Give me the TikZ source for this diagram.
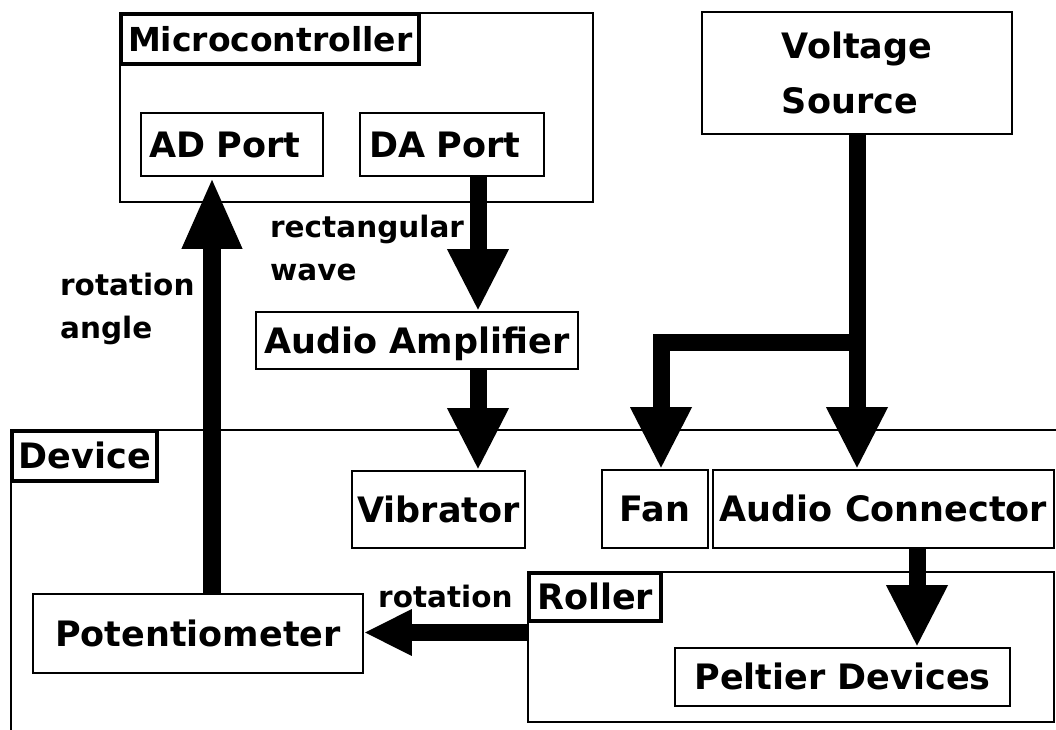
\documentclass[tikz,border=0pt]{standalone}
\usepackage{fontspec}
\setmainfont{DejaVu Sans}
\usetikzlibrary{arrows.meta,calc}
\newcommand\BoxFont{\fontsize{35}{55}\selectfont\bfseries}
\newcommand\LblFont{\fontsize{29.5}{43}\selectfont\bfseries}
\begin{document}
\begin{tikzpicture}[x=1pt,y=-1pt,
  box/.style={draw, line width=1.6pt, inner sep=0pt, font=\BoxFont, text height=25.5pt, text depth=0pt},
  frame/.style={draw, line width=1.6pt, inner sep=0pt},
  tag/.style={draw, line width=4pt, inner sep=0pt, font=\BoxFont, text height=25.5pt, text depth=0pt, anchor=north west},
  lbl/.style={font=\LblFont, align=left, inner sep=0pt, anchor=base west},
  flow/.style={line width=17pt, -{Triangle[width=57pt,length=62pt]}},
  flowA/.style={line width=18pt, -{Triangle[width=55pt,length=72pt]}},
  flowR/.style={line width=17pt, -{Triangle[width=43pt,length=48pt]}}]
\useasboundingbox (0,0) rectangle (1056,729);
\clip (0,0) rectangle (1056,729);
\fill[white] (0,0) rectangle (1056,729);
% containers
\node[frame, minimum width=473pt, minimum height=189pt] (mc) at (356.5,107.5) {};
\node[tag, minimum width=298pt, minimum height=50pt, font=\fontsize{33}{40}\selectfont\bfseries] (mctag) at (mc.north west) {Microcontroller};
\node[frame, minimum width=1070pt, minimum height=330pt] (dev) at (546,595) {};
\node[tag, minimum width=145pt, minimum height=50pt] (devtag) at (dev.north west) {Device};
\node[frame, minimum width=526pt, minimum height=150pt] (roller) at (791,647) {};
\node[tag, minimum width=132pt, minimum height=48pt] (rolltag) at (roller.north west) {Roller};
% boxes
\node[box, minimum width=182pt, minimum height=63pt, text width=166pt, align=left, inner xsep=8pt] (ad) at (232,144.5) {AD Port};
\node[box, minimum width=182pt, minimum height=63pt, text width=166pt, align=left, inner xsep=9pt] (da) at (452,144.5) {DA Port};
\node[draw, line width=1.6pt, inner sep=0pt, font=\BoxFont, align=left, minimum width=310pt, minimum height=122pt] (vs) at (857,73) {Voltage\\Source};
\node[box, minimum width=322pt, minimum height=57pt] (amp) at (417,340.5) {Audio Amplifier};
\node[box, minimum width=173pt, minimum height=77pt] (vib) at (438.5,509.5) {Vibrator};
\node[box, minimum width=106pt, minimum height=78pt] (fan) at (655,509) {Fan};
\node[box, minimum width=341pt, minimum height=78pt] (ac) at (883.5,509) {Audio Connector};
\node[box, minimum width=335pt, minimum height=58pt] (pel) at (842.5,677) {Peltier Devices};
\node[box, minimum width=330pt, minimum height=79pt] (pot) at (198,633.5) {Potentiometer};
% labels
\node[lbl] (lrect) at (270,280) {rectangular\\wave};
\node[lbl] (lang) at (60,338) {rotation\\angle};
\node[lbl] (lrot) at (378,607) {rotation};
% connectors
\coordinate (xa) at (212,0);
\coordinate (xd) at (478,0);
\coordinate (xf) at (661,0);
\coordinate (xp) at (917,0);
\coordinate (jy) at (0,342.5);
\coordinate (ry) at (0,632.5);
\draw[flowA] (pot.north -| xa) -- (ad.south -| xa);
\draw[flow] (da.south -| xd) -- (amp.north -| xd);
\draw[flow] (amp.south -| xd) -- (vib.north -| xd);
\draw[flow] (vs.south) -- (ac.north -| vs.south);
\draw[flow, line join=miter] (vs.south |- jy) -| (fan.north -| xf);
\draw[flow] (ac.south -| xp) -- (pel.north -| xp);
\draw[flowR] (roller.west |- ry) -- (pot.east |- ry);
\end{tikzpicture}
\end{document}
